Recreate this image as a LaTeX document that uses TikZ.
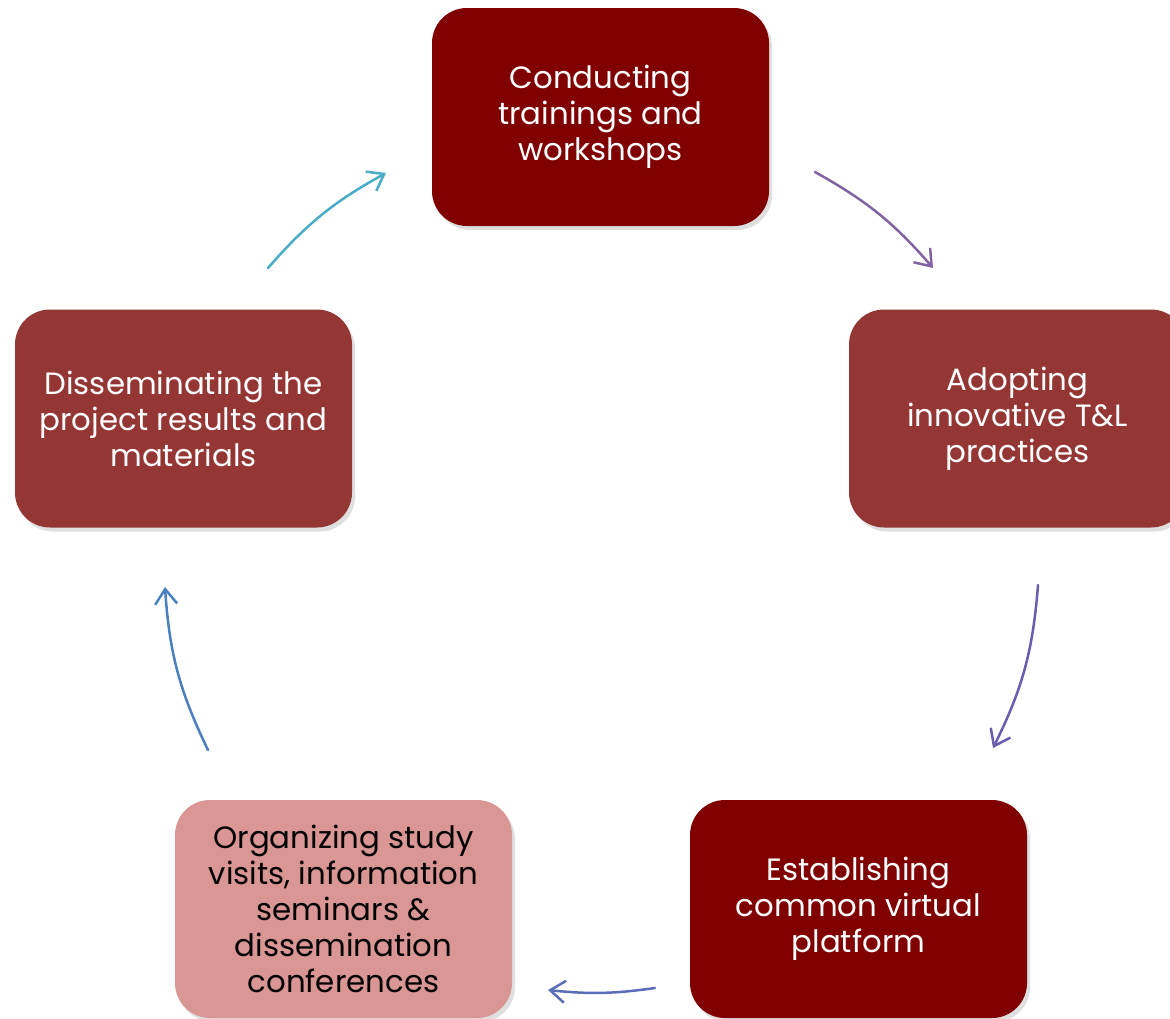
\documentclass[tikz,border=0pt]{standalone}
\usepackage{fontspec}
\setmainfont{Poppins}
\usepackage{tikz}
\usetikzlibrary{arrows.meta,positioning,shadows}
\tikzset{>={Straight Barb[length=15pt,width=22pt]}}
\definecolor{maroon}{HTML}{800000}
\definecolor{brick}{HTML}{943634}
\definecolor{rose}{HTML}{D99694}
\definecolor{cycA}{HTML}{4BACC6}
\definecolor{cycB}{HTML}{8064A2}
\definecolor{cycC}{HTML}{6A5DB0}
\definecolor{cycD}{HTML}{5B6CB8}
\definecolor{cycE}{HTML}{4A7FC0}

\begin{document}
\begin{tikzpicture}[x=1pt, y=-1pt,
		box/.style={rectangle, rounded corners=35pt, minimum width=337pt, minimum height=218pt, inner sep=0pt, align=center, text=white, font=\fontsize{30.8}{36}\selectfont, drop shadow={opacity=0.25, shadow xshift=3pt, shadow yshift=-4pt}},
		cyc/.style={->, line width=2.5pt, line cap=round},
		node distance=2.5cm, on grid]
		\useasboundingbox (0,0) rectangle (1170,1018);
		\node[box, fill=maroon] (train) at (600.5,117) {Conducting\\trainings and\\workshops};
		\node[box, fill=brick] (adopt) [below right=301.5pt and 417pt of train] {Adopting\\innovative T\&L\\practices};
		\node[box, fill=maroon] (platform) [below left=490.5pt and 159pt of adopt] {Establishing\\common virtual\\platform};
		\node[box, fill=rose, text=black] (organize) [left=515pt of platform] {Organizing study\\visits, information\\seminars \&\\dissemination\\conferences};
		\node[box, fill=brick] (dissem) [above left=490.5pt and 160pt of organize] {Disseminating the\\project results and\\materials};
		% arrow ends
		\coordinate (a1) at (268,268);
		\coordinate (a2) at (386,173);
		\coordinate (b1) at (815,172);
		\coordinate (b2) at (933,268);
		\coordinate (c1) at (1038,585);
		\coordinate (c2) at (993,748);
		\coordinate (d1) at (655,988);
		\coordinate (d2) at (548,990);
		\coordinate (e1) at (208,750);
		\coordinate (e2) at (165,587);
		\draw[cyc, cycA] (a1) to[bend left=10] (a2);
		\draw[cyc, cycB] (b1) to[bend left=10] (b2);
		\draw[cyc, cycC] (c1) to[bend left=11] (c2);
		\draw[cyc, cycD] (d1) to[bend left=7] (d2);
		\draw[cyc, cycE] (e1) to[bend left=11] (e2);
\end{tikzpicture}
\end{document}
